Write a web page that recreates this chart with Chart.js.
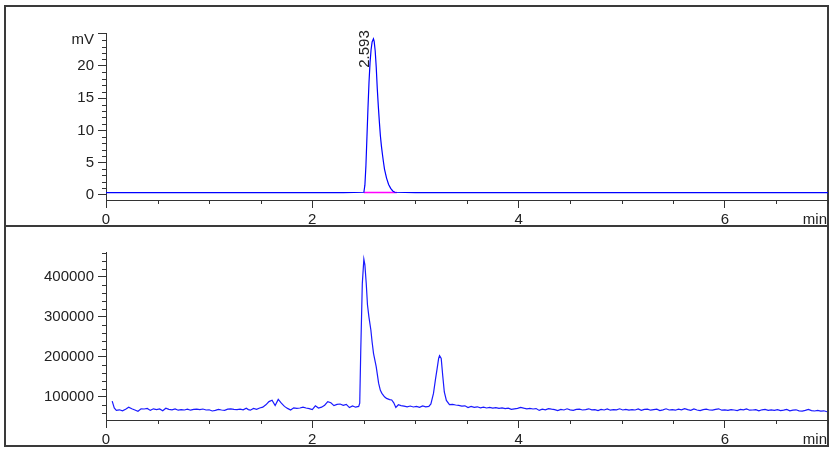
<!DOCTYPE html>
<html>
<head>
<meta charset="utf-8">
<script src="https://cdn.jsdelivr.net/npm/chart.js@4/dist/chart.umd.min.js"></script>
<style>
  html, body { margin: 0; padding: 0; background: #ffffff; }
  #wrap { position: relative; width: 834px; height: 452px; overflow: hidden; background: #fff; }
  .panel { position: absolute; box-sizing: border-box; border: 2px solid #3a3a3a; }
  canvas { position: absolute; left: 0; }
</style>
</head>
<body>
<div id="wrap">
  <div class="panel" style="left:4px; top:5px; width:825px; height:222px;"></div>
  <div class="panel" style="left:4px; top:225px; width:825px; height:222px;"></div>
  <canvas id="c1" width="834" height="226" style="top:0px;"></canvas>
  <canvas id="c2" width="834" height="220" style="top:226px;"></canvas>
</div>
<script>
// ---------- DATA ----------
// Top trace (detector signal, mV) vs time (min)
const topTimes = [0, 0.5, 1.0, 1.5, 2.0, 2.3, 2.5, 2.51, 2.52, 2.53, 2.54, 2.55, 2.56, 2.57, 2.58, 2.593,
  2.60, 2.61, 2.62, 2.63, 2.64, 2.65, 2.66, 2.67, 2.68, 2.69, 2.70, 2.72, 2.74, 2.76, 2.78, 2.80,
  3.0, 3.5, 4.0, 4.5, 5.0, 5.5, 6.0, 6.5, 7.0];
const topValues = [0.35, 0.35, 0.35, 0.35, 0.35, 0.35, 0.4, 1.5, 4.5, 9, 13.5, 17.5, 20.5, 22.5, 23.7, 24.2,
  23.8, 22.3, 19.8, 16.5, 13.8, 11.4, 9.2, 7.6, 6.3, 5.1, 4.0, 2.6, 1.6, 1.0, 0.6, 0.4,
  0.35, 0.35, 0.35, 0.35, 0.35, 0.35, 0.35, 0.35, 0.35];
// Integration baseline (magenta) under the peak
const baseTimes = [2.50, 2.82];
const baseValues = [0.35, 0.35];
// Peak annotation
const peakTimes = [2.593];
const peakHeights = [24.2];
const peakLabels = ['2.593'];

// Bottom trace (intensity counts) vs time (min)
const botTimes = [0.06, 0.08, 0.10, 0.13, 0.16, 0.19, 0.22, 0.25, 0.28, 0.31, 0.34, 0.37, 0.40, 0.43, 0.46, 0.49,
  0.52, 0.55, 0.58, 0.61, 0.64, 0.67, 0.70, 0.73, 0.76, 0.79, 0.82, 0.85, 0.88, 0.91, 0.94, 0.97,
  1.00, 1.03, 1.06, 1.09, 1.12, 1.15, 1.18, 1.21, 1.24, 1.27, 1.30, 1.33, 1.36, 1.38, 1.40, 1.43,
  1.46, 1.49, 1.52, 1.55, 1.58, 1.61, 1.64, 1.67, 1.70, 1.73, 1.76, 1.79, 1.82, 1.85, 1.88, 1.91,
  1.94, 1.97, 2.00, 2.03, 2.06, 2.09, 2.12, 2.15, 2.18, 2.21, 2.24, 2.27, 2.30, 2.33, 2.36, 2.39,
  2.42, 2.45, 2.46, 2.47, 2.485, 2.50, 2.51, 2.523, 2.535, 2.549, 2.568, 2.58, 2.594, 2.62, 2.643, 2.66,
  2.675, 2.70, 2.72, 2.75, 2.77, 2.79, 2.81, 2.835, 2.86, 2.89, 2.92, 2.95, 2.98, 3.01, 3.04, 3.07,
  3.10, 3.13, 3.15, 3.175, 3.195, 3.21, 3.225, 3.234, 3.25, 3.265, 3.28, 3.30, 3.33, 3.36, 3.39, 3.42,
  3.45, 3.48, 3.51, 3.54, 3.57, 3.60, 3.63, 3.66, 3.69, 3.72, 3.75, 3.78, 3.81, 3.84, 3.87, 3.90,
  3.93, 3.96, 3.99, 4.02, 4.05, 4.08, 4.11, 4.14, 4.17, 4.20, 4.23, 4.26, 4.29, 4.32, 4.35, 4.38,
  4.41, 4.44, 4.47, 4.50, 4.53, 4.56, 4.59, 4.62, 4.65, 4.68, 4.71, 4.74, 4.77, 4.80, 4.83, 4.86,
  4.89, 4.92, 4.95, 4.98, 5.01, 5.04, 5.07, 5.10, 5.13, 5.16, 5.19, 5.22, 5.25, 5.28, 5.31, 5.34,
  5.37, 5.40, 5.43, 5.46, 5.49, 5.52, 5.55, 5.58, 5.61, 5.64, 5.67, 5.70, 5.73, 5.76, 5.79, 5.82,
  5.85, 5.88, 5.91, 5.94, 5.97, 6.00, 6.03, 6.06, 6.09, 6.12, 6.15, 6.18, 6.21, 6.24, 6.27, 6.30,
  6.33, 6.36, 6.39, 6.42, 6.45, 6.48, 6.51, 6.54, 6.57, 6.60, 6.63, 6.66, 6.69, 6.72, 6.75, 6.78,
  6.81, 6.84, 6.87, 6.90, 6.93, 6.96, 6.99];
const botValues = [89000, 72000, 66000, 67500, 65000, 69000, 74000, 70000, 67000, 64000, 70000, 69500, 71000, 66000, 70000, 68000,
  69500, 65000, 71500, 68500, 67500, 69500, 66500, 68000, 67000, 69000, 66500, 68500, 69000, 68000, 69500, 67000,
  67500, 64500, 66000, 68500, 67000, 66000, 69000, 70000, 68500, 68000, 69000, 67500, 71500, 68000, 66500, 71000,
  68500, 72000, 74000, 80000, 88000, 91500, 78000, 93500, 84000, 76000, 71000, 67000, 72500, 71000, 72000, 74000,
  72000, 70500, 68000, 77500, 72000, 74000, 79000, 88000, 85000, 78000, 81000, 82000, 78500, 81000, 73000, 77000,
  74000, 76000, 84000, 216000, 383000, 444000, 430000, 384000, 330000, 300000, 267000, 237000, 208000, 175000, 134000, 116000,
  108500, 100000, 96000, 93000, 92000, 85000, 73500, 80000, 78000, 76500, 75000, 77000, 74500, 76000, 73500, 77000,
  75000, 76000, 82000, 108500, 145000, 170000, 196000, 203000, 196000, 152000, 112000, 91000, 80500, 81000, 79500, 78500,
  76500, 77500, 73000, 76000, 73500, 75000, 72500, 74000, 72000, 73500, 71500, 73000, 71000, 72500, 70500, 71500,
  68500, 70000, 71000, 73500, 71500, 70000, 71000, 69500, 70500, 66000, 69000, 67500, 70500, 69000, 68000, 65500,
  68500, 67000, 70000, 67500, 66000, 68500, 69000, 67000, 68000, 70000, 67500, 68000, 65500, 68500, 67000, 69500,
  66500, 68000, 67500, 70000, 67000, 68500, 66500, 68000, 67000, 69500, 66000, 68500, 69000, 66500, 68000, 69000,
  65500, 67500, 70000, 67000, 68000, 66500, 69000, 67500, 70500, 68000, 66000, 69500, 67000, 65500, 68000, 69000,
  67000, 66500, 68500, 70000, 66500, 67500, 66000, 68000, 67000, 65500, 68500, 67500, 69500, 66500, 67000, 68000,
  65000, 67500, 68500, 66000, 67500, 66000, 68000, 65500, 66500, 68500, 65000, 66500, 67500, 65000, 64000, 66000,
  68500, 65500, 64500, 66000, 64000, 65000, 62500];

// Axis tick definitions
const xMajorTicks = [0, 2, 4, 6];
const xMinorStep = 0.5;
const topYMajorTicks = [0, 5, 10, 15, 20, 25];
const topYLabelled = [0, 5, 10, 15, 20];
const topYMinorStep = 1;
const botYMajorTicks = [100000, 200000, 300000, 400000];
const botYMinorStep = 20000;
const xUnitLabel = 'min';
const topYUnitLabel = 'mV';

// ---------- CHART HELPERS ----------
const FONT_FAMILY = '"Liberation Sans", Arial, sans-serif';
const AXIS_COLOR = '#333333';
const TEXT_COLOR = '#222222';

function pts(xs, ys) { return xs.map((x, i) => ({ x: x, y: ys[i] })); }

function isIn(list, v) { return list.some((m) => Math.abs(m - v) < 1e-6); }

function minorTicksPlugin(xStep, xMajor, yStep, yMajor) {
  return {
    id: 'minorTicks',
    afterDraw(chart) {
      const ctx = chart.ctx;
      const xs = chart.scales.x, ys = chart.scales.y;
      ctx.save();
      ctx.strokeStyle = AXIS_COLOR;
      ctx.lineWidth = 1;
      ctx.beginPath();
      const axisY = Math.round(xs.top);
      for (let k = Math.ceil(xs.min / xStep); k * xStep <= xs.max + 1e-9; k++) {
        const v = k * xStep;
        if (isIn(xMajor, v)) continue;
        const px = Math.round(xs.getPixelForValue(v)) + 0.5;
        ctx.moveTo(px, axisY); ctx.lineTo(px, axisY + 4);
      }
      const axisX = Math.round(ys.right);
      for (let k = Math.ceil(ys.min / yStep); k * yStep <= ys.max + 1e-9; k++) {
        const v = k * yStep;
        if (isIn(yMajor, v)) continue;
        const py = Math.round(ys.getPixelForValue(v)) + 0.5;
        ctx.moveTo(axisX, py); ctx.lineTo(axisX - 4, py);
      }
      ctx.stroke();
      ctx.restore();
    }
  };
}

function labelsPlugin(yUnit, withPeaks) {
  return {
    id: 'extraLabels',
    afterDraw(chart) {
      const ctx = chart.ctx;
      const xs = chart.scales.x, ys = chart.scales.y;
      ctx.save();
      ctx.fillStyle = TEXT_COLOR;
      ctx.font = '15px ' + FONT_FAMILY;
      ctx.textAlign = 'right';
      ctx.textBaseline = 'middle';
      ctx.fillText(xUnitLabel, chart.chartArea.right - 1, xs.top + 20);
      if (yUnit) {
        ctx.textAlign = 'right';
        ctx.fillText(yUnit, ys.right - 12, ys.top + 7);
      }
      if (withPeaks) {
        for (let i = 0; i < peakTimes.length; i++) {
          const px = xs.getPixelForValue(peakTimes[i]) - 9;
          const py = ys.getPixelForValue(peakHeights[i]) + 29;
          ctx.save();
          ctx.translate(px, py);
          ctx.rotate(-Math.PI / 2);
          ctx.textAlign = 'left';
          ctx.textBaseline = 'middle';
          ctx.fillText(peakLabels[i], 0, 0);
          ctx.restore();
        }
      }
      ctx.restore();
    }
  };
}

function axisOpts(min, max, majors, tickLen, pad) {
  return {
    type: 'linear',
    min: min, max: max,
    afterBuildTicks: (s) => { s.ticks = majors.map((v) => ({ value: v })); },
    border: { display: true, color: AXIS_COLOR, width: 1 },
    grid: { display: true, drawOnChartArea: false, drawTicks: true, tickLength: tickLen, color: AXIS_COLOR, tickColor: AXIS_COLOR },
    ticks: {
      autoSkip: false, maxRotation: 0, minRotation: 0,
      color: TEXT_COLOR, padding: pad,
      font: { family: FONT_FAMILY, size: 15 }
    }
  };
}

function makeChart(canvasId, datasets, yMin, yMax, yMajors, yFmt, chartTop, chartBottom, canvasH, plugins) {
  const xAxis = axisOpts(0, 7.0, xMajorTicks, 8, 3);
  xAxis.afterFit = (s) => { s.height = canvasH - chartBottom; };
  xAxis.ticks.callback = (v) => String(v);
  const yAxis = axisOpts(yMin, yMax, yMajors, 8, 4);
  yAxis.afterFit = (s) => { s.width = 106; };
  yAxis.ticks.callback = yFmt;
  return new Chart(document.getElementById(canvasId), {
    type: 'line',
    data: { datasets: datasets },
    options: {
      responsive: false,
      animation: false,
      devicePixelRatio: 1,
      layout: { padding: { left: 0, right: 6, top: chartTop, bottom: 0 } },
      plugins: { legend: { display: false }, tooltip: { enabled: false }, title: { display: false } },
      elements: { point: { radius: 0 }, line: { tension: 0 } },
      scales: { x: xAxis, y: yAxis }
    },
    plugins: plugins
  });
}

// ---------- TOP CHART ----------
makeChart('c1', [
  { data: pts(topTimes, topValues), borderColor: '#0000ff', borderWidth: 1.2, fill: false, pointRadius: 0 },
  { data: pts(baseTimes, baseValues), borderColor: '#ff00ff', borderWidth: 1.5, fill: false, pointRadius: 0 }
], -0.8, 25.1, topYMajorTicks, (v) => (isIn(topYLabelled, v) ? String(v) : ''), 33, 200, 226,
  [minorTicksPlugin(xMinorStep, xMajorTicks, topYMinorStep, topYMajorTicks),
   labelsPlugin(topYUnitLabel, true)]);

// ---------- BOTTOM CHART ----------
makeChart('c2', [
  { data: pts(botTimes, botValues), borderColor: '#1a1aff', borderWidth: 1.2, fill: false, pointRadius: 0 }
], 42000, 462000, botYMajorTicks, (v) => String(v), 26, 194, 220,
  [minorTicksPlugin(xMinorStep, xMajorTicks, botYMinorStep, botYMajorTicks),
   labelsPlugin(null, false)]);
</script>
</body>
</html>
